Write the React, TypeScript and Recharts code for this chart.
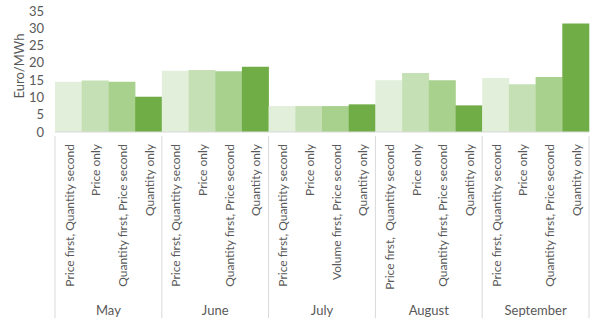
import React from 'react';
import { BarChart, Bar, XAxis, YAxis, Cell, Label } from 'recharts';

const months = ['May', 'June', 'July', 'August', 'September'];
const treatments = [
  ['Price first, Quantity second', 'Price only', 'Quantity first, Price second', 'Quantity only'],
  ['Price first, Quantity second', 'Price only', 'Quantity first, Price second', 'Quantity only'],
  ['Price first, Quantity second', 'Price only', 'Volume first, Price second', 'Quantity only'],
  ['Price first,  Quantity second', 'Price only', 'Quantity first, Price second', 'Quantity only'],
  ['Price first, Quantity second', 'Price only', 'Quantity first, Price second', 'Quantity only'],
];
const values = [
  [14.5, 14.9, 14.5, 10.2],
  [17.7, 17.9, 17.6, 18.9],
  [7.5, 7.5, 7.5, 8.0],
  [15.0, 17.1, 15.0, 7.7],
  [15.6, 13.8, 15.9, 31.4],
];
const yTicks = [0, 5, 10, 15, 20, 25, 30, 35];
const colors = ['#E2EFDA', '#C5E0B4', '#A9D18E', '#70AD47'];

const data = months.flatMap((m, i) =>
  treatments[i].map((t, j) => ({ key: `${m}-${j}`, label: t, month: m, value: values[i][j], idx: j }))
);

const W = 591;
const H = 321;
const LEFT = 55;
const RIGHT = 2;
const TOP = 11;
const BOTTOM = 3;
const XH = 186;
const bandW = (W - LEFT - RIGHT) / data.length;
const FONT = 'Lato, "DejaVu Sans", sans-serif';
const GREY = '#595959';
const LINE = '#D9D9D9';

const CatTick = (props: any) => {
  const { x, y, index } = props;
  const d = data[index];
  const top = y - 4;
  const bottom = H - BOTTOM;
  return (
    <g>
      <text
        x={0}
        y={0}
        transform={`translate(${x + 1},${top + 8}) rotate(-90)`}
        textAnchor="end"
        dy="0.35em"
        fontSize={12}
        fontFamily={FONT}
        fill={GREY}
        style={{ whiteSpace: 'pre' }}
      >
        {d.label}
      </text>
      {index % 4 === 0 && (
        <line x1={x - bandW / 2} x2={x - bandW / 2} y1={top} y2={bottom} stroke={LINE} strokeWidth={1} />
      )}
      {index === data.length - 1 && (
        <line x1={x + bandW / 2} x2={x + bandW / 2} y1={top} y2={bottom} stroke={LINE} strokeWidth={1} />
      )}
      {index % 4 === 1 && (
        <text x={x + bandW / 2} y={310} textAnchor="middle" dy="0.35em" fontSize={13} fontFamily={FONT} fill={GREY}>
          {d.month}
        </text>
      )}
    </g>
  );
};

export default function App() {
  return (
    <div style={{ position: 'absolute', left: 0, top: 0, width: W, height: H, background: '#fff' }}>
      <BarChart width={W} height={H} data={data} margin={{ top: TOP, right: RIGHT, bottom: BOTTOM, left: 0 }} barCategoryGap={0}>
        <XAxis
          dataKey="key"
          interval={0}
          height={XH}
          axisLine={{ stroke: LINE }}
          tickLine={false}
          tick={<CatTick />}
        />
        <YAxis
          width={LEFT}
          domain={[0, 35]}
          ticks={yTicks}
          interval={0}
          axisLine={false}
          tickLine={false}
          tickSize={0}
          tickMargin={11}
          tick={{ fontSize: 13, fontFamily: FONT, fill: GREY }}
        >
          <Label
            content={() => (
              <text
                x={0}
                y={0}
                transform={`translate(19,66) rotate(-90)`}
                textAnchor="middle"
                dy="0.35em"
                fontSize={13}
                fontFamily={FONT}
                fill={GREY}
              >
                Euro/MWh
              </text>
            )}
          />
        </YAxis>
        <Bar dataKey="value" isAnimationActive={false}>
          {data.map((d) => (
            <Cell key={d.key} fill={colors[d.idx]} />
          ))}
        </Bar>
      </BarChart>
    </div>
  );
}
